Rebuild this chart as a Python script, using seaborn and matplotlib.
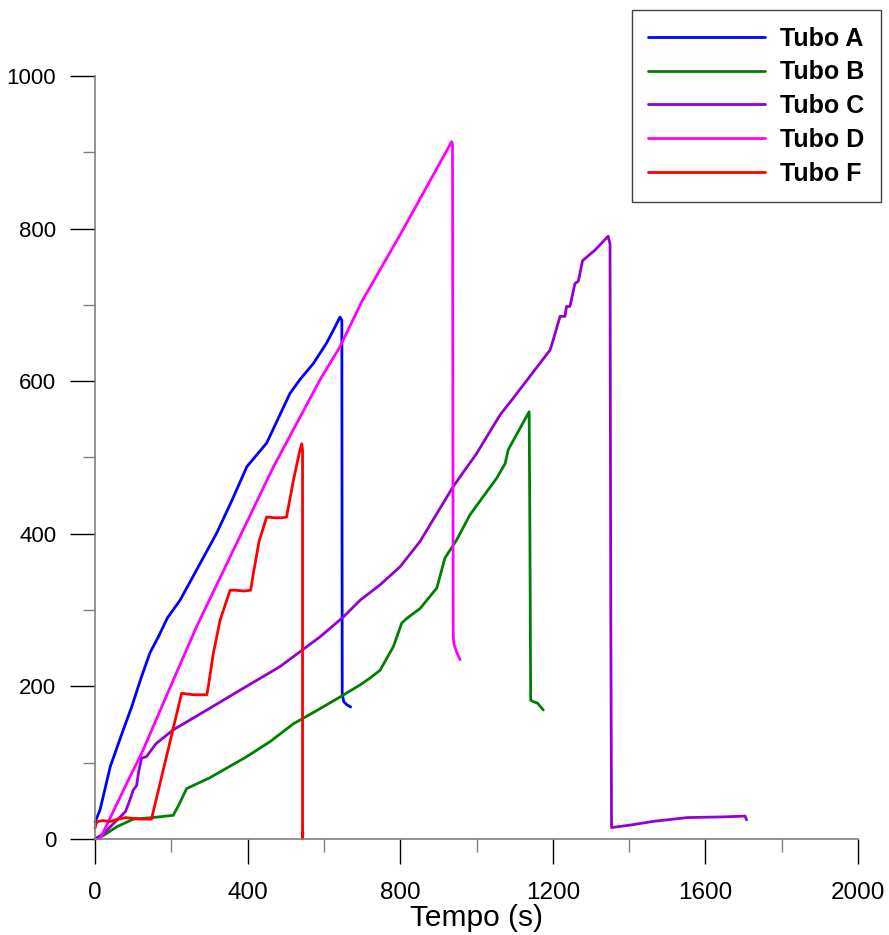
import matplotlib
matplotlib.use("Agg")
import matplotlib.pyplot as plt
from matplotlib.ticker import MultipleLocator
import seaborn as sns

# Curves (time in s, value)
tubo_a_x = [0, 13, 40, 74, 96, 120, 144, 166, 190, 223, 271, 319, 360, 398, 450, 511, 537, 572, 607, 630, 642, 647, 648, 652, 660, 670]
tubo_a_y = [22, 38, 95, 143, 173, 210, 244, 265, 290, 313, 357, 401, 445, 488, 519, 584, 602, 623, 650, 672, 684, 680, 190, 180, 176, 173]

tubo_b_x = [0, 20, 57, 100, 150, 205, 220, 240, 300, 398, 460, 520, 580, 642, 695, 721, 747, 782, 804, 817, 852, 896, 909, 917, 948, 983, 1018, 1053, 1075, 1083, 1138, 1140, 1142, 1149, 1160, 1175]
tubo_b_y = [0, 4, 16, 26, 28, 31, 45, 66, 80, 108, 128, 151, 168, 186, 202, 211, 221, 252, 283, 289, 302, 329, 353, 368, 392, 425, 449, 473, 492, 510, 560, 400, 182, 180, 178, 169]

tubo_c_x = [0, 22, 66, 80, 92, 100, 109, 115, 122, 135, 160, 205, 293, 380, 485, 590, 651, 695, 747, 800, 852, 939, 1000, 1062, 1092, 1193, 1201, 1219, 1232, 1236, 1245, 1258, 1267, 1278, 1311, 1345, 1350, 1352, 1354, 1400, 1463, 1551, 1650, 1704, 1708]
tubo_c_y = [0, 7, 29, 36, 52, 64, 70, 90, 106, 108, 125, 143, 169, 195, 226, 265, 291, 313, 333, 357, 390, 462, 505, 556, 575, 641, 654, 685, 685, 698, 698, 728, 731, 758, 772, 790, 780, 300, 15, 18, 23, 28, 29, 30, 25]

tubo_d_x = [13, 40, 66, 92, 122, 205, 266, 363, 468, 590, 642, 700, 800, 935, 937, 938, 939, 941, 948, 957]
tubo_d_y = [0, 28, 55, 82, 112, 208, 278, 379, 488, 602, 645, 705, 792, 914, 910, 600, 265, 255, 245, 235]

tubo_f_x = [0, 2, 8, 20, 40, 60, 80, 100, 120, 148, 227, 240, 260, 293, 297, 310, 328, 354, 370, 390, 408, 415, 430, 450, 470, 490, 502, 520, 535, 542, 544, 544, 545]
tubo_f_y = [14, 20, 23, 24, 23, 26, 28, 27, 26, 26, 191, 190, 189, 189, 200, 243, 287, 326, 326, 325, 326, 348, 390, 422, 421, 421, 422, 470, 505, 518, 510, 0, 8]

series = [
    ("Tubo A", tubo_a_x, tubo_a_y, "#0000FF"),
    ("Tubo B", tubo_b_x, tubo_b_y, "#008000"),
    ("Tubo C", tubo_c_x, tubo_c_y, "#9400D3"),
    ("Tubo D", tubo_d_x, tubo_d_y, "#FF00FF"),
    ("Tubo F", tubo_f_x, tubo_f_y, "#FF0000"),
]

sns.set_style("ticks")
plt.rcParams["font.family"] = ["Liberation Sans", "DejaVu Sans"]
plt.rcParams.update({"text.color": "black", "axes.labelcolor": "black",
                     "xtick.labelcolor": "black", "ytick.labelcolor": "black"})

fig = plt.figure(figsize=(8.89, 9.35), dpi=100)
ax = fig.add_axes([0.1069, 0.1027, 0.8582, 0.8160])

for name, xs, ys, col in series:
    sns.lineplot(x=xs, y=ys, ax=ax, color=col, linewidth=2.0, sort=False,
                 estimator=None, label=name, clip_on=False)

ax.set_xlim(0, 2000)
ax.set_ylim(0, 1000)
ax.xaxis.set_major_locator(MultipleLocator(400))
ax.xaxis.set_minor_locator(MultipleLocator(200))
ax.yaxis.set_major_locator(MultipleLocator(200))
ax.yaxis.set_minor_locator(MultipleLocator(100))
ax.tick_params(which="major", length=18, width=1.0, color="black")
ax.tick_params(which="minor", length=9, width=1.0, color="#808080")
ax.tick_params(axis="x", which="major", labelsize=17.5, pad=13)
ax.tick_params(axis="y", which="major", labelsize=16, pad=10)

for side in ["top", "right"]:
    ax.spines[side].set_visible(False)
for side in ["left", "bottom"]:
    ax.spines[side].set_color("#808080")
    ax.spines[side].set_linewidth(1.2)

ax.set_xlabel("Tempo (s)", fontsize=21.5, labelpad=0)
ax.set_ylabel("")

handles, labels = ax.get_legend_handles_labels()
ax.legend_.remove()
leg = fig.legend(handles, labels, loc="upper right", bbox_to_anchor=(0.991, 0.989),
                 borderaxespad=0, prop={"weight": "bold", "size": 18},
                 handlelength=4.7, handletextpad=0.6, labelspacing=0.39,
                 borderpad=0.65, fancybox=False, framealpha=1, edgecolor="#404040")
leg.get_frame().set_linewidth(1.0)

fig.savefig("out.png", dpi=100)
